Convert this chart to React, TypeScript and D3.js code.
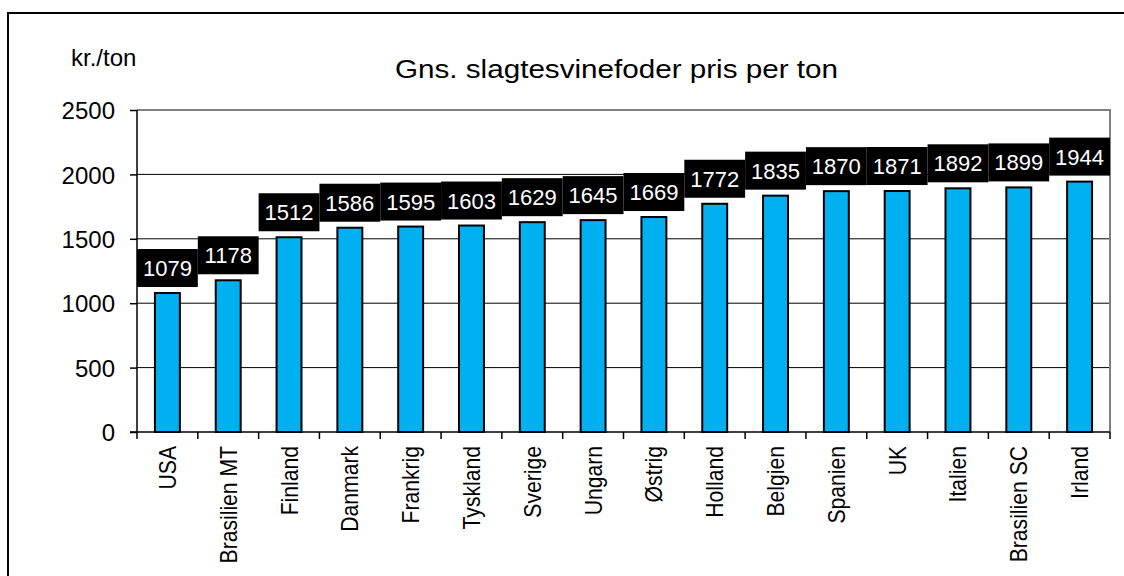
import React, { useEffect, useRef } from "react";
import * as d3 from "d3";

const countries = [
  "USA", "Brasilien MT", "Finland", "Danmark", "Frankrig", "Tyskland", "Sverige", "Ungarn",
  "Østrig", "Holland", "Belgien", "Spanien", "UK", "Italien", "Brasilien SC", "Irland",
];
const prices = [1079, 1178, 1512, 1586, 1595, 1603, 1629, 1645, 1669, 1772, 1835, 1870, 1871, 1892, 1899, 1944];
const yTicks = [0, 500, 1000, 1500, 2000, 2500];

const chartTitle = "Gns. slagtesvinefoder pris per ton";
const unitLabel = "kr./ton";

const barBlue = "#00B0F0";
const font = "Arial, 'Liberation Sans', sans-serif";

const App = () => {
  const ref = useRef<SVGSVGElement>(null);
  const width = 1124;
  const height = 576;
  const left = 137;
  const right = 1110;
  const top = 110;
  const bottom = 432;

  useEffect(() => {
    const svg = d3.select(ref.current);
    svg.selectAll("*").remove();

    const x = d3.scaleBand().domain(countries).range([left, right]).paddingInner(0).paddingOuter(0);
    const y = d3.scaleLinear().domain([0, 2500]).range([bottom, top]);

    // outer frame (top + left only visible)
    svg.append("path")
      .attr("d", `M8,${height} L8,13 L${width},13`)
      .attr("fill", "none")
      .attr("stroke", "#000")
      .attr("stroke-width", 2);

    // gridlines
    svg.append("g")
      .selectAll("line")
      .data(yTicks.filter((t) => t > 0 && t < 2500))
      .enter()
      .append("line")
      .attr("x1", left)
      .attr("x2", right)
      .attr("y1", (d) => y(d))
      .attr("y2", (d) => y(d))
      .attr("stroke", "#000")
      .attr("stroke-width", 1);

    // plot area border (gray)
    svg.append("path")
      .attr("d", `M${left},${top} L${right},${top} L${right},${bottom}`)
      .attr("fill", "none")
      .attr("stroke", "#808080")
      .attr("stroke-width", 2);

    // bars
    const bw = x.bandwidth() * 0.41;
    svg.append("g")
      .selectAll("rect")
      .data(prices)
      .enter()
      .append("rect")
      .attr("x", (d, i) => x(countries[i])! + x.bandwidth() / 2 - bw / 2)
      .attr("y", (d) => y(d))
      .attr("width", bw)
      .attr("height", (d) => y(0) - y(d))
      .attr("fill", barBlue)
      .attr("stroke", "#000")
      .attr("stroke-width", 2);

    // y axis
    const yAxis = d3.axisLeft(y).tickValues(yTicks).tickFormat(d3.format("d")).tickSize(7).tickPadding(15);
    const ya = svg.append("g").attr("transform", `translate(${left},0)`).call(yAxis);
    ya.select(".domain").attr("stroke", "#000").attr("stroke-width", 1.5).attr("d", `M0,${top}V${bottom}`);
    ya.selectAll(".tick line").attr("stroke", "#000").attr("stroke-width", 1.5);
    ya.selectAll(".tick text")
      .attr("font-family", font)
      .attr("font-size", 24)
      .attr("fill", "#000")
      .attr("dy", "0.36em");

    // x axis
    const xa = svg.append("g").attr("transform", `translate(0,${bottom})`);
    xa.append("line")
      .attr("x1", left - 7)
      .attr("x2", right)
      .attr("stroke", "#000")
      .attr("stroke-width", 1.5);
    xa.selectAll("line.tk")
      .data([...countries.map((c) => x(c)!), right])
      .enter()
      .append("line")
      .attr("class", "tk")
      .attr("x1", (d) => d)
      .attr("x2", (d) => d)
      .attr("y1", 0)
      .attr("y2", 7)
      .attr("stroke", "#000")
      .attr("stroke-width", 1.5);
    xa.selectAll("text")
      .data(countries)
      .enter()
      .append("text")
      .attr("transform", (d) => `translate(${x(d)! + x.bandwidth() / 2},14) rotate(-90) scale(0.9,1)`)
      .attr("text-anchor", "end")
      .attr("dy", "0.36em")
      .attr("font-family", font)
      .attr("font-size", 23.5)
      .attr("fill", "#000")
      .text((d) => d);

    // value labels on black boxes
    const lg = svg.append("g");
    const boxH = 38;
    const gap = 6;
    lg.selectAll("rect")
      .data(prices)
      .enter()
      .append("rect")
      .attr("x", (d, i) => x(countries[i])!)
      .attr("y", (d) => y(d) - gap - boxH)
      .attr("width", x.bandwidth())
      .attr("height", boxH)
      .attr("fill", "#000");
    lg.selectAll("text")
      .data(prices)
      .enter()
      .append("text")
      .attr("x", (d, i) => x(countries[i])! + x.bandwidth() / 2)
      .attr("y", (d) => y(d) - gap - 11)
      .attr("text-anchor", "middle")
      .attr("font-family", font)
      .attr("font-size", 22)
      .attr("fill", "#fff")
      .text((d) => d);

    // titles
    svg.append("text")
      .attr("x", 616.5)
      .attr("y", 78)
      .attr("text-anchor", "middle")
      .attr("font-family", font)
      .attr("font-size", 25)
      .attr("textLength", 443)
      .attr("lengthAdjust", "spacingAndGlyphs")
      .attr("fill", "#000")
      .text(chartTitle);

    svg.append("text")
      .attr("x", 71)
      .attr("y", 66)
      .attr("font-family", font)
      .attr("font-size", 24)
      .attr("fill", "#000")
      .text(unitLabel);

    return () => {
      svg.selectAll("*").remove();
    };
  }, []);

  return (
    <svg
      ref={ref}
      width={width}
      height={height}
      style={{ position: "absolute", left: 0, top: 0, background: "#fff" }}
    />
  );
};

export default App;
